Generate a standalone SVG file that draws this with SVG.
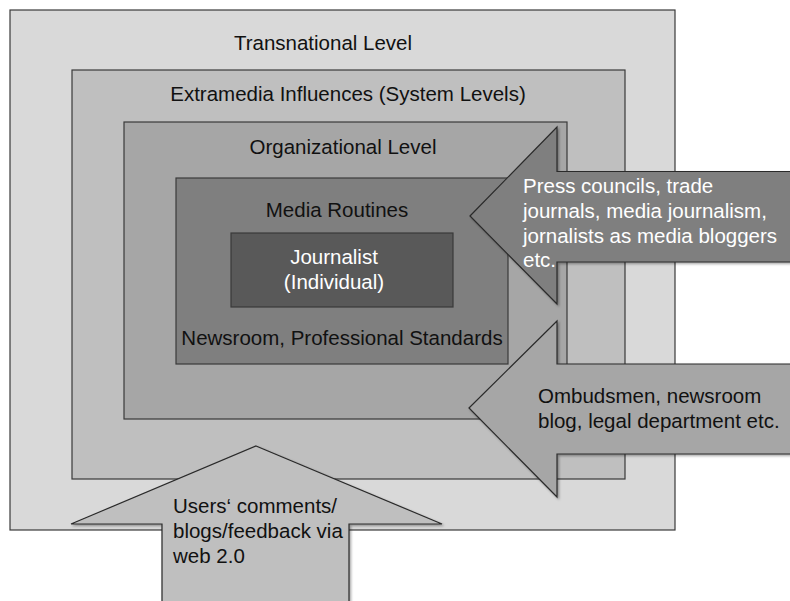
<svg xmlns="http://www.w3.org/2000/svg" width="790" height="601" viewBox="0 0 790 601">
<style>
.box{stroke:#3a3a3a;stroke-width:1.2}
.arr{stroke:#2a2a2a;stroke-width:1.2;stroke-linejoin:miter}
text{font-family:"Liberation Sans",Arial,sans-serif;font-size:20.5px}
.c{text-anchor:middle}
.dk{fill:#111}
.wt{fill:#fff}
</style>
<defs>
<filter id="sh" x="-10%" y="-10%" width="130%" height="130%">
<feDropShadow dx="1.5" dy="1.5" stdDeviation="1.2" flood-color="#000" flood-opacity="0.35"/>
</filter>
</defs>
<rect width="790" height="601" fill="#fff"/>
<g id="transnational">
<rect class="box" x="10" y="10" width="665" height="520" fill="#d9d9d9"/>
<text class="c dk" x="323" y="50">Transnational Level</text>
</g>
<g id="extramedia">
<rect class="box" x="72" y="70" width="553" height="409" fill="#bfbfbf"/>
<text class="c dk" x="348" y="101">Extramedia Influences (System Levels)</text>
</g>
<g id="organizational">
<rect class="box" x="124" y="122" width="443" height="297" fill="#a6a6a6"/>
<text class="c dk" x="343" y="154">Organizational Level</text>
</g>
<g id="media-routines">
<rect class="box" x="176" y="178" width="332" height="186" fill="#7f7f7f"/>
<text class="c dk" x="337" y="217">Media Routines</text>
<text class="c dk" x="342" y="345">Newsroom, Professional Standards</text>
</g>
<g id="journalist">
<rect class="box" x="231" y="233" width="222" height="74" fill="#595959"/>
<text class="c wt" x="334" y="264">Journalist</text>
<text class="c wt" x="334" y="289">(Individual)</text>
</g>
<g id="connectors">
<g id="arrow-press">
<polygon class="arr" filter="url(#sh)" fill="#7f7f7f" points="470,216 557,127 557,171.5 796,171.5 796,262 557,262 557,304"/>
<text class="wt" x="523" y="193">Press councils, trade</text>
<text class="wt" x="523" y="218">journals, media journalism,</text>
<text class="wt" x="523" y="243">jornalists as media bloggers</text>
<text class="wt" x="523" y="267">etc.</text>
</g>
<g id="arrow-ombudsmen">
<polygon class="arr" filter="url(#sh)" fill="#a6a6a6" points="469,408 557,321 557,364 796,364 796,454 557,454 557,497"/>
<text class="dk" x="538" y="403">Ombudsmen, newsroom</text>
<text class="dk" x="538" y="428">blog, legal department etc.</text>
</g>
<g id="arrow-users">
<polygon class="arr" filter="url(#sh)" fill="#bfbfbf" points="256,446 442,524 349,524 349,610 162,610 162,524 71,524"/>
<text class="dk" x="173" y="513">Users‘ comments/</text>
<text class="dk" x="173" y="538">blogs/feedback via</text>
<text class="dk" x="173" y="563">web 2.0</text>
</g>
</g>
</svg>
